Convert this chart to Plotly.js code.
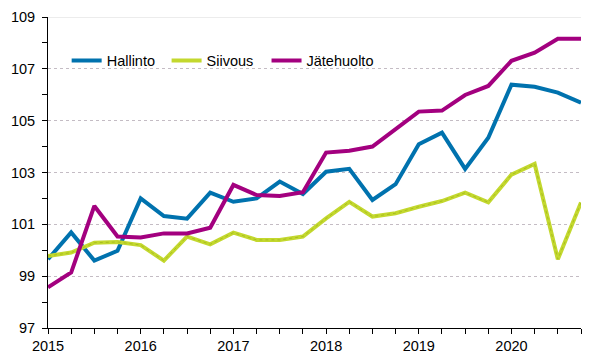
<!DOCTYPE html>
<html><head><meta charset="utf-8">
<script src="https://cdn.plot.ly/plotly-3.0.1.min.js"></script>
<style>html,body{margin:0;padding:0;background:#fff}#chart{width:614px;height:362px}</style>
</head><body><div id="chart"></div>
<script>
const quarters = ["2015Q1","2015Q2","2015Q3","2015Q4","2016Q1","2016Q2","2016Q3","2016Q4","2017Q1","2017Q2","2017Q3","2017Q4","2018Q1","2018Q2","2018Q3","2018Q4","2019Q1","2019Q2","2019Q3","2019Q4","2020Q1","2020Q2","2020Q3","2020Q4"];
const hallinto = [99.65,100.69,99.6,99.98,102.0,101.32,101.22,102.22,101.87,102.0,102.65,102.17,103.03,103.14,101.94,102.55,104.09,104.54,103.14,104.34,106.39,106.31,106.08,105.69];
const siivous = [99.78,99.91,100.29,100.32,100.2,99.6,100.53,100.23,100.68,100.4,100.4,100.53,101.23,101.87,101.3,101.43,101.68,101.9,102.22,101.85,102.92,103.33,99.65,101.84];
const jatehuolto = [98.57,99.14,101.71,100.53,100.49,100.65,100.65,100.87,102.52,102.13,102.09,102.24,103.77,103.84,104.0,104.67,105.35,105.39,105.99,106.34,107.31,107.62,108.16,108.16];
const names = ["Hallinto","Siivous","Jätehuolto"];
const colors = ["#0072AE","#C3D82E","#A3007F"];
const yearTicks = [2015,2016,2017,2018,2019,2020];

const x = quarters.map(q => parseInt(q.slice(0,4)) + (parseInt(q.slice(5)) - 1) / 4);

const traces = [
  {x:x, y:hallinto, name:names[0], legend:"legend", mode:"lines", line:{color:colors[0], width:4}},
  {x:x, y:siivous, name:names[1], legend:"legend2", mode:"lines", line:{color:colors[1], width:4}},
  {x:x, y:siivous, name:names[1], mode:"lines", showlegend:false, hoverinfo:"skip", line:{color:"#A9BE1E", width:1, dash:"dot"}},
  {x:x, y:jatehuolto, name:names[2], legend:"legend3", mode:"lines", line:{color:colors[2], width:4}}
];

const legBase = {orientation:"h", y:0.86, yanchor:"middle", xanchor:"left", bgcolor:"rgba(0,0,0,0)", font:{size:14.5}, itemwidth:30};

const layout = {
  width:614, height:362,
  margin:{l:48, r:33, t:17, b:34},
  paper_bgcolor:"#fff", plot_bgcolor:"#fff",
  font:{family:"Liberation Sans, Arial, sans-serif", size:14.5, color:"#000"},
  showlegend:true,
  legend:Object.assign({}, legBase, {x:0.035}),
  legend2:Object.assign({}, legBase, {x:0.2225}),
  legend3:Object.assign({}, legBase, {x:0.41}),
  xaxis:{range:[2015,2020.75], tickvals:yearTicks, ticktext:yearTicks.map(String), ticks:"outside", ticklen:5, tickcolor:"#000", showline:true, linecolor:"#000", linewidth:1, showgrid:false, zeroline:false,
    minor:{dtick:0.25, tick0:2015, ticks:"outside", ticklen:5, tickcolor:"#000", showgrid:false}, tickfont:{size:14.5}},
  yaxis:{range:[97,109], tick0:97, dtick:2, ticks:"outside", ticklen:5, tickcolor:"#000", showline:true, linecolor:"#000", linewidth:1,
    showgrid:true, gridcolor:"#c4bcc4", griddash:"dot", gridwidth:1, zeroline:false, ticklabelstandoff:4,
    minor:{dtick:1, tick0:97, ticks:"outside", ticklen:5, tickcolor:"#000", showgrid:false}, tickfont:{size:14.5}},
  shapes:[{type:"line", xref:"paper", yref:"y", x0:0, x1:1, y0:109, y1:109, line:{color:"#d9d9d9", width:1}, layer:"below"}]
};
Plotly.newPlot("chart", traces, layout, {displayModeBar:false, staticPlot:true});
</script></body></html>
